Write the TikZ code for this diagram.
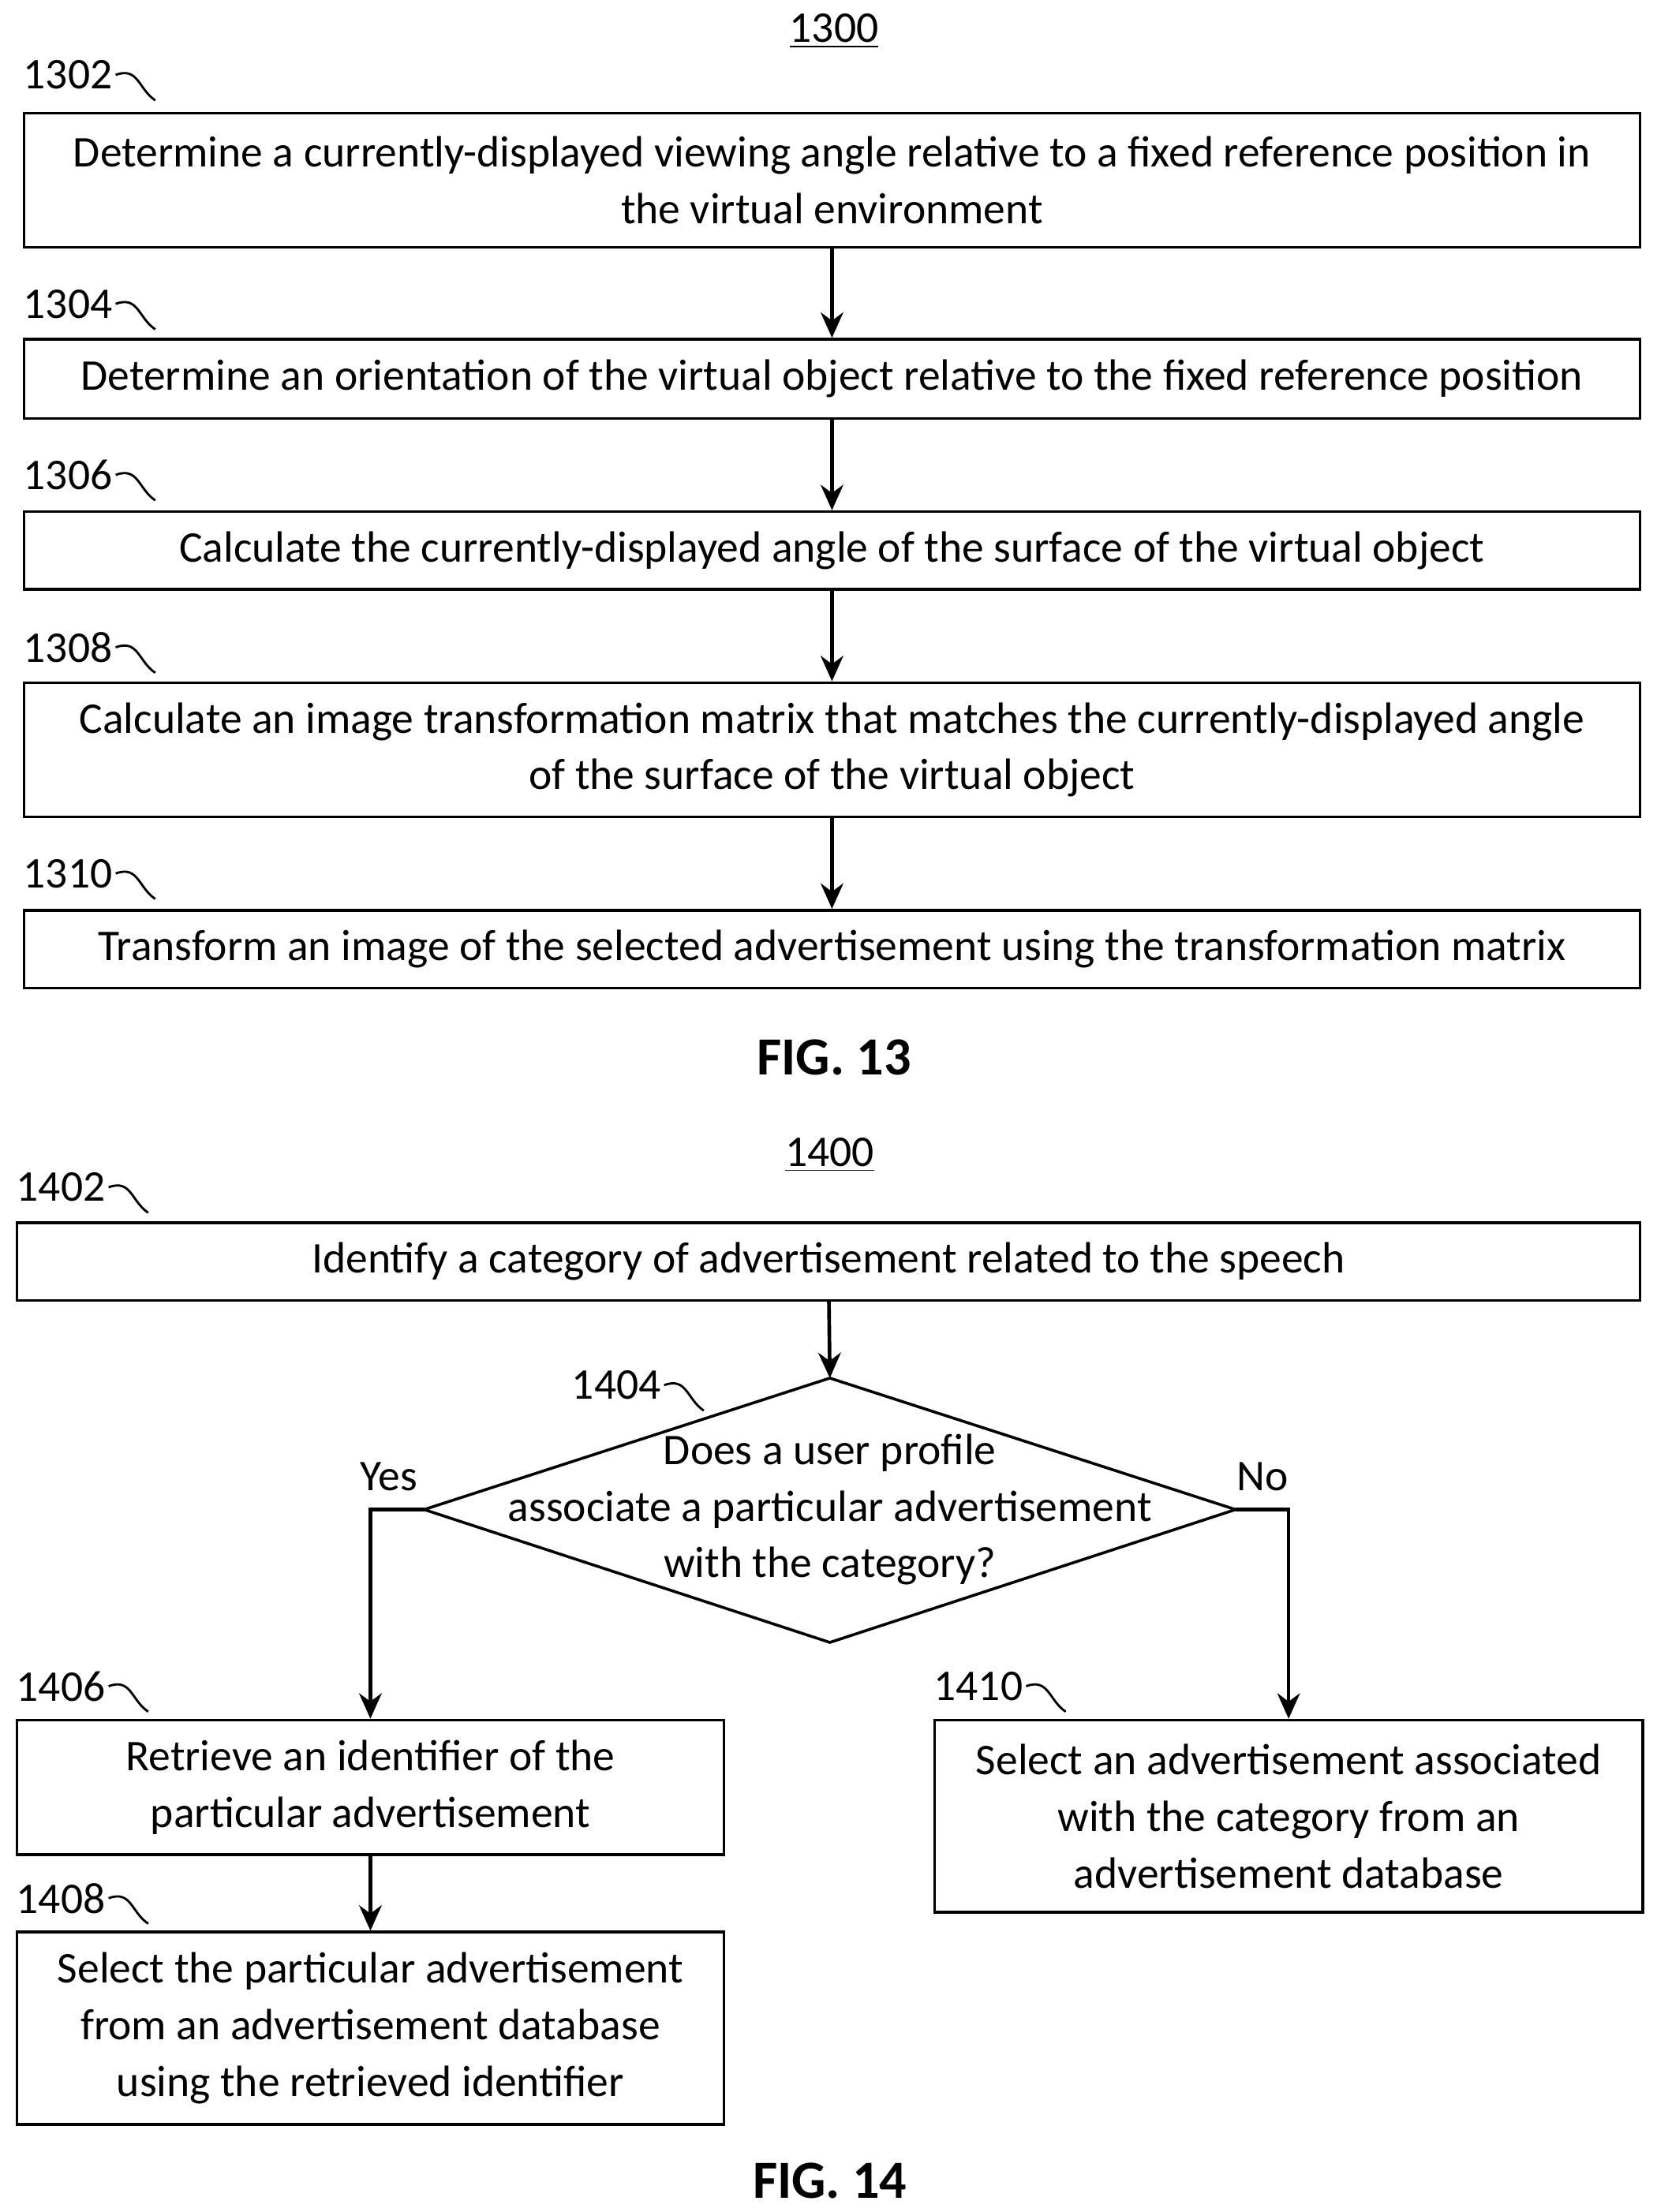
\documentclass[tikz,border=0pt]{standalone}
\usepackage{fontspec}
\setmainfont{Carlito}
\usetikzlibrary{arrows.meta}
\begin{document}
\begin{tikzpicture}[x=0.5pt,y=-0.5pt,
 box/.style={draw,line width=1pt,align=center,inner sep=0pt,font=\fontsize{15.5}{20}\selectfont},
 lbl/.style={font=\fontsize{15.5}{20}\selectfont,inner sep=1pt},
 arr/.style={line width=1.3pt,-{Stealth[length=9pt,width=8pt]}},
 tl/.style={line width=0.8pt}]
\useasboundingbox (0,0) rectangle (1172,1565);
\node[lbl] (t1300) at (590,22) {\underline{1300}};
\node[box,minimum width=571.5pt,minimum height=47.5pt] (b1302) at (588.5,127.5) {Determine a currently-displayed viewing angle relative to a fixed reference position in\\the virtual environment};
\node[box,minimum width=571.5pt,minimum height=28pt] (b1304) at (588.5,268) {Determine an orientation of the virtual object relative to the fixed reference position};
\node[box,minimum width=571.5pt,minimum height=27.5pt] (b1306) at (588.5,389.5) {Calculate the currently-displayed angle of the surface of the virtual object};
\node[box,minimum width=571.5pt,minimum height=47.5pt] (b1308) at (588.5,530.5) {Calculate an image transformation matrix that matches the currently-displayed angle\\of the surface of the virtual object};
\node[box,minimum width=571.5pt,minimum height=27.5pt] (b1310) at (588.5,671.5) {Transform an image of the selected advertisement using the transformation matrix};
\foreach \n/\y in {1302/53,1304/215,1306/336,1308/458,1310/618}{
 \node[lbl] (l\n) at (48,\y) {\n};
 \draw[tl] (l\n.east) .. controls +(8pt,3pt) and +(-6pt,4pt) .. +(14pt,-9pt);
}
\draw[arr] (b1302) -- (b1304);
\draw[arr] (b1304) -- (b1306);
\draw[arr] (b1306) -- (b1308);
\draw[arr] (b1308) -- (b1310);
\node[font=\bfseries\fontsize{19}{22}\selectfont] (f13) at (590,748) {FIG. 13};

\node[lbl] (t1400) at (587,817) {\underline{1400}};
\node[box,minimum width=574pt,minimum height=27.5pt] (b1402) at (586,892.5) {Identify a category of advertisement related to the speech};
\coordinate (dt) at (587,975); \coordinate (db) at (587,1162);
\coordinate (dl) at (300,1068); \coordinate (dr) at (874,1068);
\draw[line width=1pt] (dt) -- (dr) -- (db) -- (dl) -- cycle;
\node[lbl,align=center] (dtext) at (587,1068) {Does a user profile\\associate a particular advertisement\\with the category?};
\node[lbl] (yes) at (275,1045) {Yes};
\node[lbl] (no) at (893,1045) {No};
\node[box,minimum width=250pt,minimum height=47.5pt] (b1406) at (262,1264.5) {Retrieve an identifier of the\\particular advertisement};
\node[box,minimum width=250pt,minimum height=68pt] (b1408) at (262,1435) {Select the particular advertisement\\from an advertisement database\\using the retrieved identifier};
\node[box,minimum width=250.5pt,minimum height=68pt] (b1410) at (911.5,1285) {Select an advertisement associated\\with the category from an\\advertisement database};
\foreach \n/\x/\y in {1402/43/840,1404/436/980,1406/43/1193,1408/43/1343,1410/692/1193}{
 \node[lbl] (l\n) at (\x,\y) {\n};
 \draw[tl] (l\n.east) .. controls +(8pt,3pt) and +(-6pt,4pt) .. +(14pt,-9pt);
}
\draw[arr] (b1402) -- (dt);
\draw[arr] (dl) -| (b1406.north);
\draw[arr] (dr) -| (b1410.north);
\draw[arr] (b1406) -- (b1408);
\node[font=\bfseries\fontsize{19}{22}\selectfont] (f14) at (587,1543) {FIG. 14};
\end{tikzpicture}
\end{document}
